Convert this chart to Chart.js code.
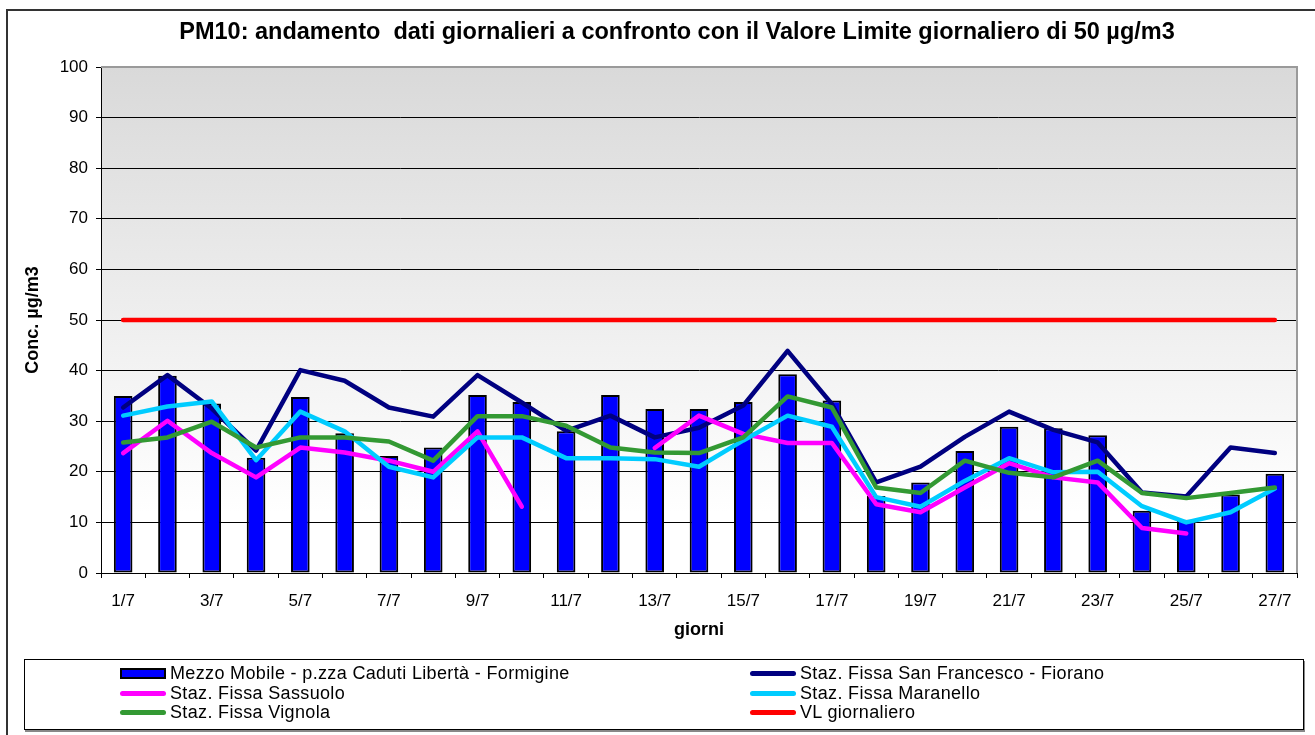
<!DOCTYPE html>
<html>
<head>
<meta charset="utf-8">
<script src="https://cdn.jsdelivr.net/npm/chart.js@4.4.1/dist/chart.umd.min.js"></script>
<style>
  html, body { margin: 0; padding: 0; background: #ffffff; }
  #wrap { position: relative; width: 1315px; height: 735px; overflow: hidden; font-family: "Liberation Sans", Arial, sans-serif; }
  #frame { position: absolute; left: 6px; top: 9px; width: 1320px; height: 740px; border-left: 2px solid #333; border-top: 2px solid #333; box-sizing: border-box; pointer-events: none; }
  #c { position: absolute; left: 0; top: 0; }
  #legend { position: absolute; left: 24px; top: 659px; width: 1280px; height: 71px; border: 1px solid #000; box-sizing: border-box; box-shadow: 1px 2px 0 #888; background: #fff; }
  .li { position: absolute; height: 20px; display: flex; align-items: center; font-size: 18px; color: #000; white-space: nowrap; letter-spacing: 0.35px; }
  .sym { width: 46px; margin-right: 4px; box-sizing: border-box; }
  .bar { height: 11px; background: #0000ff; border: 2px solid #000; }
  .line { height: 5px; border-radius: 3px; }
</style>
</head>
<body>
<div id="wrap">
  <canvas id="c" width="1315" height="735"></canvas>
  <div id="frame"></div>
  <div id="legend"></div>
</div>
<script>
// ---- data ----
const categories = ['1/7','2/7','3/7','4/7','5/7','6/7','7/7','8/7','9/7','10/7','11/7','12/7','13/7','14/7','15/7','16/7','17/7','18/7','19/7','20/7','21/7','22/7','23/7','24/7','25/7','26/7','27/7'];
const mezzoMobile = [35, 39, 33.5, 22.8, 34.8, 27.6, 23.1, 24.8, 35.2, 33.8, 28.0, 35.2, 32.4, 32.4, 33.8, 39.3, 34.1, 15.2, 17.9, 24.1, 28.9, 28.6, 27.2, 12.3, 10.5, 15.5, 19.6];
const sanFrancesco = [32.7, 39.1, 32.5, 24.2, 40.1, 38.0, 32.7, 30.9, 39.1, 33.7, 28.1, 31.1, 26.8, 28.7, 33.1, 43.9, 33.4, 17.9, 21.0, 26.9, 31.9, 28.3, 25.8, 15.9, 15.1, 24.8, 23.7];
const sassuolo = [23.7, 30.1, 23.7, 18.9, 24.8, 23.8, 22.2, 20.0, 28.0, 13.1, null, null, 24.7, 31.1, 27.5, 25.7, 25.7, 13.6, 12.0, 16.9, 21.7, 18.9, 17.9, 8.9, 7.8, null, null];
const maranello = [31.1, 32.9, 33.9, 22.3, 31.9, 28.0, 21.0, 18.9, 26.8, 26.8, 22.7, 22.7, 22.5, 21.0, 26.2, 31.1, 28.9, 15.0, 13.1, 18.2, 22.7, 19.9, 20.0, 13.2, 10.0, 12.0, 16.7];
const vignola = [25.8, 26.8, 29.9, 24.8, 26.8, 26.8, 26.0, 22.2, 31.0, 31.0, 29.1, 24.8, 23.8, 23.7, 26.8, 34.9, 32.7, 16.9, 15.8, 22.2, 19.8, 18.9, 22.2, 15.8, 14.8, 15.8, 16.9];
const vlGiornaliero = [50, 50, 50, 50, 50, 50, 50, 50, 50, 50, 50, 50, 50, 50, 50, 50, 50, 50, 50, 50, 50, 50, 50, 50, 50, 50, 50];
const yTicks = [0, 10, 20, 30, 40, 50, 60, 70, 80, 90, 100];

const seriesNames = [
  'Mezzo Mobile - p.zza Caduti Libertà - Formigine',
  'Staz. Fissa San Francesco - Fiorano',
  'Staz. Fissa Sassuolo',
  'Staz. Fissa Maranello',
  'Staz. Fissa Vignola',
  'VL giornaliero'
];
const titleText = 'PM10: andamento  dati giornalieri a confronto con il Valore Limite giornaliero di 50 µg/m3';

const FONT = '"Liberation Sans", Arial, sans-serif';

const bgPlugin = {
  id: 'bgPlugin',
  beforeDraw(chart) {
    const {ctx, chartArea: a} = chart;
    const g = ctx.createLinearGradient(0, a.top, 0, a.bottom);
    g.addColorStop(0, '#d9d9d9');
    g.addColorStop(0.88, '#ffffff');
    g.addColorStop(1, '#ffffff');
    ctx.save();
    ctx.fillStyle = g;
    ctx.fillRect(a.left, a.top, a.right - a.left, a.bottom - a.top);
    ctx.restore();
  },
  beforeDatasetsDraw(chart) {
    const {ctx, chartArea: a} = chart;
    ctx.save();
    ctx.strokeStyle = '#9a9a9a';
    ctx.lineWidth = 2;
    ctx.beginPath();
    ctx.moveTo(a.left, a.top);
    ctx.lineTo(a.right, a.top);
    ctx.lineTo(a.right, a.bottom);
    ctx.stroke();
    ctx.restore();
  },
  afterDraw(chart) {
    const ctx = chart.ctx;
    ctx.save();
    ctx.fillStyle = '#000';
    ctx.font = 'bold 23.5px ' + FONT;
    ctx.textAlign = 'center';
    ctx.textBaseline = 'middle';
    ctx.fillText(titleText, 677, 33);
    ctx.restore();
  }
};

const lineDs = (label, data, color, order) => ({
  type: 'line', label, data, borderColor: color, backgroundColor: color,
  borderWidth: 4.5, pointRadius: 0, pointHoverRadius: 0, tension: 0, spanGaps: false,
  borderCapStyle: 'round', borderJoinStyle: 'round', order, fill: false
});

new Chart(document.getElementById('c'), {
  type: 'bar',
  data: {
    labels: categories,
    datasets: [
      { type: 'bar', label: seriesNames[0], data: mezzoMobile, backgroundColor: '#0000ff', borderColor: '#000000', borderWidth: 2, borderSkipped: false, barPercentage: 0.42, categoryPercentage: 1.0, order: 10 },
      lineDs(seriesNames[1], sanFrancesco, '#000080', 5),
      lineDs(seriesNames[2], sassuolo, '#ff00ff', 4),
      lineDs(seriesNames[3], maranello, '#00ccff', 3),
      lineDs(seriesNames[4], vignola, '#339933', 2),
      lineDs(seriesNames[5], vlGiornaliero, '#ff0000', 1)
    ]
  },
  options: {
    responsive: false,
    animation: false,
    layout: { padding: { left: 8, right: 18, top: 67, bottom: 87 } },
    plugins: {
      legend: { display: false },
      tooltip: { enabled: false },
      title: { display: false }
    },
    scales: {
      x: {
        offset: true,
        grid: { display: true, offset: true, drawOnChartArea: false, drawTicks: true, tickLength: 5, color: '#000' },
        border: { display: true, color: '#000', width: 1 },
        ticks: {
          autoSkip: false, maxRotation: 0, color: '#000', padding: 13,
          font: { family: FONT, size: 17 },
          callback: function(v, i) { return i % 2 === 0 ? categories[i] : ''; }
        },
        title: { display: true, text: 'giorni', color: '#000', font: { family: FONT, size: 18, weight: 'bold' }, padding: { top: 0, bottom: 7 } },
        afterFit: s => { s.height = 75; }
      },
      y: {
        min: 0, max: 100,
        afterBuildTicks: s => { s.ticks = yTicks.map(v => ({ value: v })); },
        grid: {
          color: c => (c.tick && c.tick.value === 100) ? 'rgba(0,0,0,0)' : '#000',
          tickColor: '#000', tickLength: 5, lineWidth: 1
        },
        border: { display: true, color: '#000', width: 1 },
        ticks: { color: '#000', padding: 8, font: { family: FONT, size: 17 } },
        title: { display: true, text: 'Conc. µg/m3', color: '#000', font: { family: FONT, size: 18, weight: 'bold' }, padding: { top: 14, bottom: 0 } },
        afterFit: s => { s.width = 93; }
      }
    }
  },
  plugins: [bgPlugin]
});

// ---- HTML legend ----
const legendItems = [
  { name: seriesNames[0], kind: 'bar', color: '#0000ff', x: 95, y: 3 },
  { name: seriesNames[1], kind: 'line', color: '#000080', x: 725, y: 3 },
  { name: seriesNames[2], kind: 'line', color: '#ff00ff', x: 95, y: 23 },
  { name: seriesNames[3], kind: 'line', color: '#00ccff', x: 725, y: 23 },
  { name: seriesNames[4], kind: 'line', color: '#339933', x: 95, y: 42 },
  { name: seriesNames[5], kind: 'line', color: '#ff0000', x: 725, y: 42 }
];
const lg = document.getElementById('legend');
legendItems.forEach(it => {
  const d = document.createElement('div');
  d.className = 'li';
  d.style.left = it.x + 'px';
  d.style.top = it.y + 'px';
  const s = document.createElement('div');
  s.className = 'sym ' + it.kind;
  if (it.kind === 'line') s.style.background = it.color;
  const t = document.createElement('span');
  t.textContent = it.name;
  d.appendChild(s); d.appendChild(t);
  lg.appendChild(d);
});
</script>
</body>
</html>
